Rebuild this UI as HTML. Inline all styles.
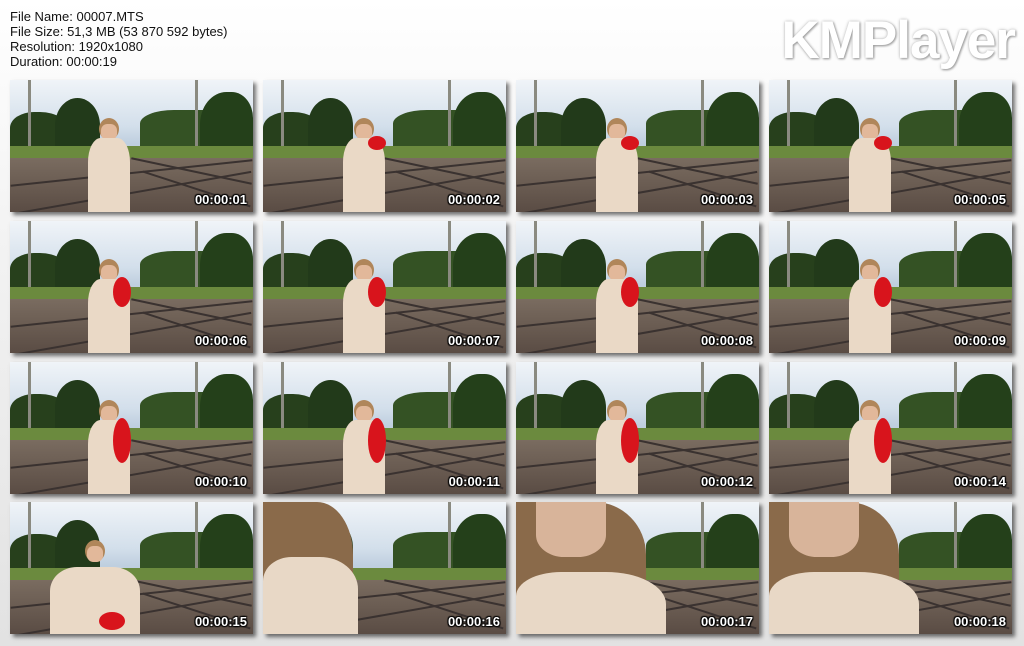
<!DOCTYPE html>
<html><head><meta charset="utf-8"><style>
html,body{margin:0;padding:0;width:1024px;height:646px;overflow:hidden;
background:linear-gradient(180deg,#ffffff 0%,#f2f2f2 40%,#e2e2e2 100%);font-family:"Liberation Sans",sans-serif;}
#info{position:absolute;left:10px;top:9px;font-size:13px;line-height:15px;color:#111;}
#logo{position:absolute;right:9px;top:10px;font-size:53px;font-weight:bold;color:#fff;letter-spacing:-1px;
text-shadow:1px 1px 2px #999,0 0 3px #bbb;}
.th{position:absolute;width:243px;height:132px;overflow:hidden;box-shadow:3px 3px 4px rgba(0,0,0,0.55);
background:linear-gradient(180deg,#f0f4f8 0%,#d3dfeb 35%,#bfcfdf 48%);}
.th div{position:absolute;}
.ts{right:6px;bottom:5px;color:#fff;font-weight:bold;font-size:13px;text-shadow:1px 1px 1px #000,-1px -1px 1px #000,1px -1px 1px #000,-1px 1px 1px #000;}
</style></head><body>
<div id="info">File Name: 00007.MTS<br>File Size: 51,3 MB (53 870 592 bytes)<br>Resolution: 1920x1080<br>Duration: 00:00:19</div>
<div id="logo">KMPlayer</div>
<div id="grid"></div>
<script>
const times=["00:00:01","00:00:02","00:00:03","00:00:05","00:00:06","00:00:07","00:00:08","00:00:09","00:00:10","00:00:11","00:00:12","00:00:14","00:00:15","00:00:16","00:00:17","00:00:18"];
const colsX=[10,263,516,769], rowsY=[80,221,362,502];
const g=document.getElementById('grid');
function d(p,css){const e=document.createElement('div');e.style.cssText=css;p.appendChild(e);return e;}
times.forEach((t,i)=>{
 const th=document.createElement('div');th.className='th';
 
 
 th.style.left=colsX[i%4]+'px';th.style.top=rowsY[Math.floor(i/4)]+'px';
 const close=i>=13;
 d(th,'left:0;top:32px;width:60px;height:40px;background:#27401c;border-radius:40% 50% 0 0');
 d(th,'left:45px;top:18px;width:45px;height:55px;background:#223a1a;border-radius:50% 50% 10% 10%');
 d(th,'left:130px;top:30px;width:113px;height:45px;background:#345224;border-radius:30% 40% 0 0');
 d(th,'left:190px;top:12px;width:53px;height:65px;background:#24401a;border-radius:50% 40% 0 0');
 d(th,'left:18px;top:0;width:3px;height:80px;background:#8a8a80');
 d(th,'left:185px;top:0;width:3px;height:80px;background:#8a8a80');
 d(th,'left:0;top:66px;width:243px;height:16px;background:#6b8a3e');
 d(th,'left:0;top:78px;width:243px;height:54px;background:linear-gradient(180deg,#7a6c60,#5a4c44)');
 d(th,'left:0;top:92px;width:243px;height:2px;background:#3a3230;transform:rotate(-6deg)');
 d(th,'left:0;top:112px;width:243px;height:2px;background:#3a3230;transform:rotate(-10deg)');
 d(th,'left:120px;top:90px;width:123px;height:2px;background:#3a3230;transform:rotate(12deg)');
 d(th,'left:130px;top:108px;width:113px;height:2px;background:#3a3230;transform:rotate(18deg)');
 if(!close){
  const gx=i==12?40:(i%4==0?78:80);
  const w=i==12?90:42;
  d(th,'left:'+(gx+w/2-10)+'px;top:38px;width:20px;height:22px;background:#b0865a;border-radius:50%');
  d(th,'left:'+(gx+w/2-8)+'px;top:44px;width:16px;height:16px;background:#e2b89a;border-radius:40%');
  d(th,'left:'+gx+'px;top:'+(i==12?65:58)+'px;width:'+w+'px;height:80px;background:#ead9c6;border-radius:30% 30% 0 0');
  if(i>0){const bh=i<4?14:(i<8?30:45);
   d(th,'left:'+(gx+w/2+4)+'px;top:'+(i==12?110:56)+'px;width:'+(i==12?26:18)+'px;height:'+(i==12?18:bh)+'px;background:#d8141c;border-radius:50%');}
 } else {
  d(th,'left:0;top:0;width:'+(i==13?90:130)+'px;height:132px;background:#8a6a4a;border-radius:0 40% 0 0');
  if(i>13)d(th,'left:20px;top:0;width:70px;height:55px;background:#d8b49a;border-radius:0 0 40% 40%');
  d(th,'left:0;top:'+(i==13?55:70)+'px;width:'+(i==13?95:150)+'px;height:80px;background:#e8d8c6;border-radius:30% 40% 0 0');
 }
 const ts=d(th,'');ts.className='ts';ts.textContent=t;
 
 
 g.appendChild(th);
});
</script>
</body></html>
